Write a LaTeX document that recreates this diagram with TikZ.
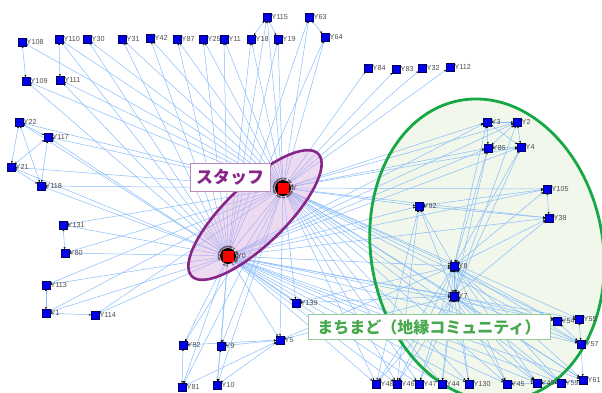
\documentclass[tikz,border=0pt]{standalone}
\usepackage{fontspec}
\setsansfont{Liberation Sans}
\newfontfamily\jpfont{Noto Sans CJK JP}
\usetikzlibrary{arrows.meta, positioning}
\definecolor{edgeBlue}{RGB}{135,188,250}
\definecolor{nodeBlue}{RGB}{0,0,235}
\definecolor{staffPurple}{RGB}{135,38,135}
\definecolor{staffFill}{RGB}{215,170,222}
\definecolor{commGreen}{RGB}{22,168,68}
\definecolor{commText}{RGB}{72,168,78}
\definecolor{commFill}{RGB}{241,247,235}
\definecolor{labelGray}{gray}{0.3}
\pgfdeclarelayer{bg}
\pgfsetlayers{bg,main}

\begin{document}
\begin{tikzpicture}[x=1pt, y=-1pt,
    lbl/.style={font=\sffamily\fontsize{7.2}{8}\selectfont, text=labelGray, inner sep=0.6pt},
    member/.style={rectangle, fill=nodeBlue, draw=blue!35!black, line width=.3pt,
        minimum size=7.5pt, inner sep=0pt, label={[lbl]right:#1}},
    staffring/.style={circle, fill=black, minimum size=16pt, inner sep=0pt, label={[lbl]right:#1}},
    staffcore/.style={rectangle, fill=red, minimum size=11pt, inner sep=0pt},
    lk/.style={draw=edgeBlue, line width=.5pt,
        arrows={Stealth[color=black,length=2.2pt,width=2pt]-Stealth[color=black,length=2.2pt,width=2pt]}},
    tag/.style={fill=white, line width=1pt, font=\jpfont\bfseries, inner sep=2pt}]
    \useasboundingbox (0,0) rectangle (602,392);

    % staff
    \node[staffring=Y] (sa) at (283,188) {};
    \node[staffcore] (sa-in) at (sa) {};
    \node[staffring=Y0] (sb) at (228,256) {};
    \node[staffcore] (sb-in) at (sb) {};

    % top and left members
    \node[member=Y108] (y108) at (22,42) {};
    \node[member=Y110] (y110) at (59,39) {};
    \node[member=Y30] (y30) at (87,39) {};
    \node[member=Y31] (y31) at (122,39) {};
    \node[member=Y42] (y42) at (150,38) {};
    \node[member=Y87] (y87) at (177,39) {};
    \node[member=Y25] (y25) at (203,39) {};
    \node[member=Y11] (y11) at (224,39) {};
    \node[member=Y18] (y18) at (251,39) {};
    \node[member=Y19] (y19) at (278,39) {};
    \node[member=Y115] (y115) at (267,17) {};
    \node[member=Y63] (y63) at (309,17) {};
    \node[member=Y64] (y64) at (325,37) {};
    \node[member=Y109] (y109) at (26,81) {};
    \node[member=Y111] (y111) at (60,80) {};
    \node[member=Y84] (y84) at (368,68) {};
    \node[member=Y83] (y83) at (396,69) {};
    \node[member=Y32] (y32) at (422,68) {};
    \node[member=Y112] (y112) at (450,67) {};
    \node[member=Y22] (y22) at (19,122) {};
    \node[member=Y117] (y117) at (48,137) {};
    \node[member=Y21] (y21) at (11,167) {};
    \node[member=Y118] (y118) at (41,186) {};
    \node[member=Y131] (y131) at (63,225) {};
    \node[member=Y80] (y80) at (65,253) {};
    \node[member=Y113] (y113) at (46,285) {};
    \node[member=Y1] (y1) at (46,313) {};
    \node[member=Y114] (y114) at (95,315) {};
    \node[member=Y82] (y82) at (183,345) {};
    \node[member=Y81] (y81) at (182,387) {};
    \node[member=Y9] (y9) at (221,346) {};
    \node[member=Y10] (y10) at (217,385) {};
    \node[member=Y5] (y5) at (280,340) {};
    \node[member=Y139] (y139) at (296,303) {};

    % community members
    \node[member=Y3] (y3) at (487,122) {};
    \node[member=Y2] (y2) at (517,122) {};
    \node[member=Y86] (y86) at (488,148) {};
    \node[member=Y4] (y4) at (521,147) {};
    \node[member=Y105] (y105) at (547,189) {};
    \node[member=Y92] (y92) at (419,206) {};
    \node[member=Y38] (y38) at (549,218) {};
    \node[member=Y8] (y8) at (454,266) {};
    \node[member=Y7] (y7) at (454,296) {};
    \node[member=Y54] (y54) at (557,321) {};
    \node[member=Y55] (y55) at (579,319) {};
    \node[member=Y57] (y57) at (581,344) {};
    \node[member=Y48] (y48) at (376,384) {};
    \node[member=Y46] (y46) at (397,384) {};
    \node[member=Y47] (y47) at (419,384) {};
    \node[member=Y44] (y44) at (442,384) {};
    \node[member=Y130] (y130) at (469,384) {};
    \node[member=Y45] (y45) at (507,384) {};
    \node[member=Y49] (y49) at (537,383) {};
    \node[member=Y59] (y59) at (561,383) {};
    \node[member=Y61] (y61) at (583,380) {};

    \begin{pgfonlayer}{bg}
        \fill[commFill, rotate around={10:(487,250)}] (487,250) ellipse [x radius=116pt, y radius=152pt];
        \foreach \n in {y108,y84,y83,y32,y112}
            \draw[lk] (\n) -- (sa);
        \foreach \n in {y110,y30,y31,y42,y87,y25,y11,y18,y19,y115,y63,y64,y109,y111,
                        y22,y117,y21,y118,y131,y80,y113,y1,y114,y82,y81,y9,y10,y5,y139,
                        y3,y2,y86,y4,y105,y92,y38,y8,y7,y54,y55,y57,
                        y48,y46,y47,y44,y130,y45,y49,y59,y61} {
            \draw[lk] (\n) -- (sa);
            \draw[lk] (\n) -- (sb);
        }
        \draw[lk] (sa) -- (sb);
        \foreach \a/\b in {y108/y109, y110/y111, y115/y18, y115/y19, y63/y64,
                           y22/y117, y22/y21, y21/y117, y117/y118, y21/y118, y22/y118,
                           y131/y80, y113/y1, y1/y114, y82/y81, y9/y10, y9/y5, y5/y81,
                           y10/y5, y82/y5, y5/y7, y5/y8, y139/y7, y139/y8,
                           y3/y2, y3/y86, y2/y4, y86/y4, y3/y4, y2/y86, y105/y38,
                           y92/y8, y92/y7, y86/y8, y86/y7, y4/y8, y4/y7, y3/y8, y2/y7,
                           y105/y92, y38/y92, y105/y8, y38/y7, y38/y8, y8/y7, y92/y48, y92/y46,
                           y54/y55, y55/y57, y57/y61, y54/y57, y59/y61, y49/y59, y45/y49}
            \draw[lk] (\a) -- (\b);
        \foreach \n in {y48,y46,y47,y44,y130,y45,y49,y59,y54,y57,y61} {
            \draw[lk] (\n) -- (y8);
            \draw[lk] (\n) -- (y7);
        }
        \fill[staffFill, fill opacity=.45, rotate around={44:(255,215)}] (255,215) ellipse [x radius=88pt, y radius=30pt];
        \draw[staffPurple, line width=2.6pt, rotate around={44:(255,215)}] (255,215) ellipse [x radius=88pt, y radius=30pt];
        \draw[commGreen, line width=2.8pt, rotate around={10:(487,250)}] (487,250) ellipse [x radius=116pt, y radius=152pt];
    \end{pgfonlayer}

    \node[tag, draw=staffPurple!55, text=staffPurple, font=\jpfont\bfseries\fontsize{17}{17}\selectfont,
          minimum width=80pt, minimum height=28pt] (staffbox) at (230,177) {スタッフ};
    \node[tag, draw=commText!60, text=commText, font=\jpfont\bfseries\fontsize{16}{16}\selectfont,
          minimum width=242pt, minimum height=25pt] (commbox) at (429,327) {まちまど（地縁コミュニティ）};
\end{tikzpicture}
\end{document}
